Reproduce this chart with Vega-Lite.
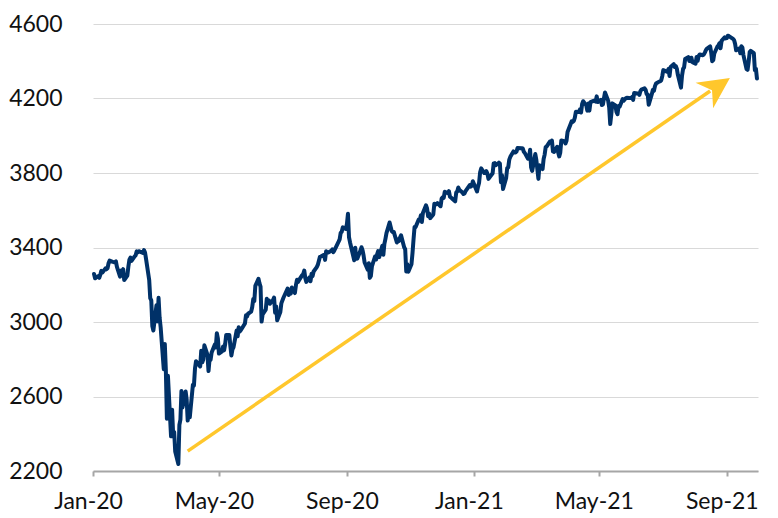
{
  "$schema": "https://vega.github.io/schema/vega-lite/v6.json",
  "autosize": "none",
  "width": 665,
  "height": 447,
  "padding": {"left": 93, "top": 24, "right": 20, "bottom": 47},
  "background": "white",
  "config": {
    "view": {"stroke": null},
    "font": "Lato",
    "axis": {"labelFont": "Lato", "labelFontSize": 23, "labelColor": "#111111", "title": null}
  },
  "datasets": {
    "spx": [
      {"d":"2020-01-02","v":3257.85},{"d":"2020-01-03","v":3234.85},{"d":"2020-01-06","v":3246.28},{"d":"2020-01-07","v":3237.18},{"d":"2020-01-08","v":3253.05},{"d":"2020-01-09","v":3274.70},{"d":"2020-01-10","v":3265.35},{"d":"2020-01-13","v":3288.13},{"d":"2020-01-14","v":3283.15},{"d":"2020-01-15","v":3289.29},{"d":"2020-01-16","v":3316.81},{"d":"2020-01-17","v":3329.62},{"d":"2020-01-21","v":3320.79},{"d":"2020-01-22","v":3321.75},{"d":"2020-01-23","v":3325.54},{"d":"2020-01-24","v":3295.47},{"d":"2020-01-27","v":3243.63},{"d":"2020-01-28","v":3276.24},{"d":"2020-01-29","v":3273.40},{"d":"2020-01-30","v":3283.66},{"d":"2020-01-31","v":3225.52},
      {"d":"2020-02-03","v":3248.92},{"d":"2020-02-04","v":3297.59},{"d":"2020-02-05","v":3334.69},{"d":"2020-02-06","v":3345.78},{"d":"2020-02-07","v":3327.71},{"d":"2020-02-10","v":3352.09},{"d":"2020-02-11","v":3357.75},{"d":"2020-02-12","v":3379.45},{"d":"2020-02-13","v":3373.94},{"d":"2020-02-14","v":3380.16},{"d":"2020-02-18","v":3370.29},{"d":"2020-02-19","v":3386.15},{"d":"2020-02-20","v":3373.23},{"d":"2020-02-21","v":3337.75},{"d":"2020-02-24","v":3225.89},{"d":"2020-02-25","v":3128.21},{"d":"2020-02-26","v":3116.39},{"d":"2020-02-27","v":2978.76},{"d":"2020-02-28","v":2954.22},
      {"d":"2020-03-02","v":3090.23},{"d":"2020-03-03","v":3003.37},{"d":"2020-03-04","v":3130.12},{"d":"2020-03-05","v":3023.94},{"d":"2020-03-06","v":2972.37},{"d":"2020-03-09","v":2746.56},{"d":"2020-03-10","v":2882.23},{"d":"2020-03-11","v":2741.38},{"d":"2020-03-12","v":2480.64},{"d":"2020-03-13","v":2711.02},{"d":"2020-03-16","v":2386.13},{"d":"2020-03-17","v":2529.19},{"d":"2020-03-18","v":2398.10},{"d":"2020-03-19","v":2409.39},{"d":"2020-03-20","v":2304.92},{"d":"2020-03-23","v":2237.40},{"d":"2020-03-24","v":2447.33},{"d":"2020-03-25","v":2475.56},{"d":"2020-03-26","v":2630.07},{"d":"2020-03-27","v":2541.47},{"d":"2020-03-30","v":2626.65},{"d":"2020-03-31","v":2584.59},
      {"d":"2020-04-01","v":2470.50},{"d":"2020-04-02","v":2526.90},{"d":"2020-04-03","v":2488.65},{"d":"2020-04-06","v":2663.68},{"d":"2020-04-07","v":2659.41},{"d":"2020-04-08","v":2749.98},{"d":"2020-04-09","v":2789.82},{"d":"2020-04-13","v":2761.63},{"d":"2020-04-14","v":2846.06},{"d":"2020-04-15","v":2783.36},{"d":"2020-04-16","v":2799.55},{"d":"2020-04-17","v":2874.56},{"d":"2020-04-20","v":2823.16},{"d":"2020-04-21","v":2736.56},{"d":"2020-04-22","v":2799.31},{"d":"2020-04-23","v":2797.80},{"d":"2020-04-24","v":2836.74},{"d":"2020-04-27","v":2878.48},{"d":"2020-04-28","v":2863.39},{"d":"2020-04-29","v":2939.51},{"d":"2020-04-30","v":2912.43},
      {"d":"2020-05-01","v":2830.71},{"d":"2020-05-04","v":2842.74},{"d":"2020-05-05","v":2868.44},{"d":"2020-05-06","v":2848.42},{"d":"2020-05-07","v":2881.19},{"d":"2020-05-08","v":2929.80},{"d":"2020-05-11","v":2930.32},{"d":"2020-05-12","v":2870.12},{"d":"2020-05-13","v":2820.00},{"d":"2020-05-14","v":2852.50},{"d":"2020-05-15","v":2863.70},{"d":"2020-05-18","v":2953.91},{"d":"2020-05-19","v":2922.94},{"d":"2020-05-20","v":2971.61},{"d":"2020-05-21","v":2948.51},{"d":"2020-05-22","v":2955.45},{"d":"2020-05-26","v":2991.77},{"d":"2020-05-27","v":3036.13},{"d":"2020-05-28","v":3029.73},{"d":"2020-05-29","v":3044.31},
      {"d":"2020-06-01","v":3055.73},{"d":"2020-06-02","v":3080.82},{"d":"2020-06-03","v":3122.87},{"d":"2020-06-04","v":3112.35},{"d":"2020-06-05","v":3193.93},{"d":"2020-06-08","v":3232.39},{"d":"2020-06-09","v":3207.18},{"d":"2020-06-10","v":3190.14},{"d":"2020-06-11","v":3002.10},{"d":"2020-06-12","v":3041.31},{"d":"2020-06-15","v":3066.59},{"d":"2020-06-16","v":3124.74},{"d":"2020-06-17","v":3113.49},{"d":"2020-06-18","v":3115.34},{"d":"2020-06-19","v":3097.74},{"d":"2020-06-22","v":3117.86},{"d":"2020-06-23","v":3131.29},{"d":"2020-06-24","v":3050.33},{"d":"2020-06-25","v":3083.76},{"d":"2020-06-26","v":3009.05},{"d":"2020-06-29","v":3053.24},{"d":"2020-06-30","v":3100.29},
      {"d":"2020-07-01","v":3115.86},{"d":"2020-07-02","v":3130.01},{"d":"2020-07-06","v":3179.72},{"d":"2020-07-07","v":3145.32},{"d":"2020-07-08","v":3169.94},{"d":"2020-07-09","v":3152.05},{"d":"2020-07-10","v":3185.04},{"d":"2020-07-13","v":3155.22},{"d":"2020-07-14","v":3197.52},{"d":"2020-07-15","v":3226.56},{"d":"2020-07-16","v":3215.57},{"d":"2020-07-17","v":3224.73},{"d":"2020-07-20","v":3251.84},{"d":"2020-07-21","v":3257.30},{"d":"2020-07-22","v":3276.02},{"d":"2020-07-23","v":3235.66},{"d":"2020-07-24","v":3215.63},{"d":"2020-07-27","v":3239.41},{"d":"2020-07-28","v":3218.44},{"d":"2020-07-29","v":3258.44},{"d":"2020-07-30","v":3246.22},{"d":"2020-07-31","v":3271.12},
      {"d":"2020-08-03","v":3294.61},{"d":"2020-08-04","v":3306.51},{"d":"2020-08-05","v":3327.77},{"d":"2020-08-06","v":3349.16},{"d":"2020-08-07","v":3351.28},{"d":"2020-08-10","v":3360.47},{"d":"2020-08-11","v":3333.69},{"d":"2020-08-12","v":3380.35},{"d":"2020-08-13","v":3373.43},{"d":"2020-08-14","v":3372.85},{"d":"2020-08-17","v":3381.99},{"d":"2020-08-18","v":3389.78},{"d":"2020-08-19","v":3374.85},{"d":"2020-08-20","v":3385.51},{"d":"2020-08-21","v":3397.16},{"d":"2020-08-24","v":3431.28},{"d":"2020-08-25","v":3443.62},{"d":"2020-08-26","v":3478.73},{"d":"2020-08-27","v":3484.55},{"d":"2020-08-28","v":3508.01},{"d":"2020-08-31","v":3500.31},
      {"d":"2020-09-01","v":3526.65},{"d":"2020-09-02","v":3580.84},{"d":"2020-09-03","v":3455.06},{"d":"2020-09-04","v":3426.96},{"d":"2020-09-08","v":3331.84},{"d":"2020-09-09","v":3398.96},{"d":"2020-09-10","v":3339.19},{"d":"2020-09-11","v":3340.97},{"d":"2020-09-14","v":3383.54},{"d":"2020-09-15","v":3401.20},{"d":"2020-09-16","v":3385.49},{"d":"2020-09-17","v":3357.01},{"d":"2020-09-18","v":3319.47},{"d":"2020-09-21","v":3281.06},{"d":"2020-09-22","v":3315.57},{"d":"2020-09-23","v":3236.92},{"d":"2020-09-24","v":3246.59},{"d":"2020-09-25","v":3298.46},{"d":"2020-09-28","v":3351.60},{"d":"2020-09-29","v":3335.47},{"d":"2020-09-30","v":3363.00},
      {"d":"2020-10-01","v":3380.80},{"d":"2020-10-02","v":3348.42},{"d":"2020-10-05","v":3408.60},{"d":"2020-10-06","v":3360.97},{"d":"2020-10-07","v":3419.44},{"d":"2020-10-08","v":3446.83},{"d":"2020-10-09","v":3477.14},{"d":"2020-10-12","v":3534.22},{"d":"2020-10-13","v":3511.93},{"d":"2020-10-14","v":3488.67},{"d":"2020-10-15","v":3483.34},{"d":"2020-10-16","v":3483.81},{"d":"2020-10-19","v":3426.92},{"d":"2020-10-20","v":3443.12},{"d":"2020-10-21","v":3435.56},{"d":"2020-10-22","v":3453.49},{"d":"2020-10-23","v":3465.39},{"d":"2020-10-26","v":3400.97},{"d":"2020-10-27","v":3390.68},{"d":"2020-10-28","v":3271.03},{"d":"2020-10-29","v":3310.11},{"d":"2020-10-30","v":3269.96},
      {"d":"2020-11-02","v":3310.24},{"d":"2020-11-03","v":3369.16},{"d":"2020-11-04","v":3443.44},{"d":"2020-11-05","v":3510.45},{"d":"2020-11-06","v":3509.44},{"d":"2020-11-09","v":3550.50},{"d":"2020-11-10","v":3545.53},{"d":"2020-11-11","v":3572.66},{"d":"2020-11-12","v":3537.01},{"d":"2020-11-13","v":3585.15},{"d":"2020-11-16","v":3626.91},{"d":"2020-11-17","v":3609.53},{"d":"2020-11-18","v":3567.79},{"d":"2020-11-19","v":3581.87},{"d":"2020-11-20","v":3557.54},{"d":"2020-11-23","v":3577.59},{"d":"2020-11-24","v":3635.41},{"d":"2020-11-25","v":3629.65},{"d":"2020-11-27","v":3638.35},{"d":"2020-11-30","v":3621.63},
      {"d":"2020-12-01","v":3662.45},{"d":"2020-12-02","v":3669.01},{"d":"2020-12-03","v":3666.72},{"d":"2020-12-04","v":3699.12},{"d":"2020-12-07","v":3691.96},{"d":"2020-12-08","v":3702.25},{"d":"2020-12-09","v":3672.82},{"d":"2020-12-10","v":3668.10},{"d":"2020-12-11","v":3663.46},{"d":"2020-12-14","v":3647.49},{"d":"2020-12-15","v":3694.62},{"d":"2020-12-16","v":3701.17},{"d":"2020-12-17","v":3722.48},{"d":"2020-12-18","v":3709.41},{"d":"2020-12-21","v":3694.92},{"d":"2020-12-22","v":3687.26},{"d":"2020-12-23","v":3690.01},{"d":"2020-12-24","v":3703.06},{"d":"2020-12-28","v":3735.36},{"d":"2020-12-29","v":3727.04},{"d":"2020-12-30","v":3732.04},{"d":"2020-12-31","v":3756.07},
      {"d":"2021-01-04","v":3700.65},{"d":"2021-01-05","v":3726.86},{"d":"2021-01-06","v":3748.14},{"d":"2021-01-07","v":3803.79},{"d":"2021-01-08","v":3824.68},{"d":"2021-01-11","v":3799.61},{"d":"2021-01-12","v":3801.19},{"d":"2021-01-13","v":3809.84},{"d":"2021-01-14","v":3795.54},{"d":"2021-01-15","v":3768.25},{"d":"2021-01-19","v":3798.91},{"d":"2021-01-20","v":3851.85},{"d":"2021-01-21","v":3853.07},{"d":"2021-01-22","v":3841.47},{"d":"2021-01-25","v":3855.36},{"d":"2021-01-26","v":3849.62},{"d":"2021-01-27","v":3750.77},{"d":"2021-01-28","v":3787.38},{"d":"2021-01-29","v":3714.24},
      {"d":"2021-02-01","v":3773.86},{"d":"2021-02-02","v":3826.31},{"d":"2021-02-03","v":3830.17},{"d":"2021-02-04","v":3871.74},{"d":"2021-02-05","v":3886.83},{"d":"2021-02-08","v":3915.59},{"d":"2021-02-09","v":3911.23},{"d":"2021-02-10","v":3909.88},{"d":"2021-02-11","v":3916.38},{"d":"2021-02-12","v":3934.83},{"d":"2021-02-16","v":3932.59},{"d":"2021-02-17","v":3931.33},{"d":"2021-02-18","v":3913.97},{"d":"2021-02-19","v":3906.71},{"d":"2021-02-22","v":3876.50},{"d":"2021-02-23","v":3881.37},{"d":"2021-02-24","v":3925.43},{"d":"2021-02-25","v":3829.34},{"d":"2021-02-26","v":3811.15},
      {"d":"2021-03-01","v":3901.82},{"d":"2021-03-02","v":3870.29},{"d":"2021-03-03","v":3819.72},{"d":"2021-03-04","v":3768.47},{"d":"2021-03-05","v":3841.94},{"d":"2021-03-08","v":3821.35},{"d":"2021-03-09","v":3875.44},{"d":"2021-03-10","v":3898.81},{"d":"2021-03-11","v":3939.34},{"d":"2021-03-12","v":3943.34},{"d":"2021-03-15","v":3968.94},{"d":"2021-03-16","v":3962.71},{"d":"2021-03-17","v":3974.12},{"d":"2021-03-18","v":3915.46},{"d":"2021-03-19","v":3913.10},{"d":"2021-03-22","v":3940.59},{"d":"2021-03-23","v":3910.52},{"d":"2021-03-24","v":3889.14},{"d":"2021-03-25","v":3909.52},{"d":"2021-03-26","v":3974.54},{"d":"2021-03-29","v":3971.09},{"d":"2021-03-30","v":3958.55},{"d":"2021-03-31","v":3972.89},
      {"d":"2021-04-01","v":4019.87},{"d":"2021-04-05","v":4077.91},{"d":"2021-04-06","v":4073.94},{"d":"2021-04-07","v":4079.95},{"d":"2021-04-08","v":4097.17},{"d":"2021-04-09","v":4128.80},{"d":"2021-04-12","v":4127.99},{"d":"2021-04-13","v":4141.59},{"d":"2021-04-14","v":4124.66},{"d":"2021-04-15","v":4170.42},{"d":"2021-04-16","v":4185.47},{"d":"2021-04-19","v":4163.26},{"d":"2021-04-20","v":4134.94},{"d":"2021-04-21","v":4173.42},{"d":"2021-04-22","v":4134.98},{"d":"2021-04-23","v":4180.17},{"d":"2021-04-26","v":4187.62},{"d":"2021-04-27","v":4186.72},{"d":"2021-04-28","v":4183.18},{"d":"2021-04-29","v":4211.47},{"d":"2021-04-30","v":4181.17},
      {"d":"2021-05-03","v":4192.66},{"d":"2021-05-04","v":4164.66},{"d":"2021-05-05","v":4167.59},{"d":"2021-05-06","v":4201.62},{"d":"2021-05-07","v":4232.60},{"d":"2021-05-10","v":4188.43},{"d":"2021-05-11","v":4152.10},{"d":"2021-05-12","v":4063.04},{"d":"2021-05-13","v":4112.50},{"d":"2021-05-14","v":4173.85},{"d":"2021-05-17","v":4163.29},{"d":"2021-05-18","v":4127.83},{"d":"2021-05-19","v":4115.68},{"d":"2021-05-20","v":4159.12},{"d":"2021-05-21","v":4155.86},{"d":"2021-05-24","v":4197.05},{"d":"2021-05-25","v":4188.13},{"d":"2021-05-26","v":4195.99},{"d":"2021-05-27","v":4200.88},{"d":"2021-05-28","v":4204.11},
      {"d":"2021-06-01","v":4202.04},{"d":"2021-06-02","v":4208.12},{"d":"2021-06-03","v":4192.85},{"d":"2021-06-04","v":4229.89},{"d":"2021-06-07","v":4226.52},{"d":"2021-06-08","v":4227.26},{"d":"2021-06-09","v":4219.55},{"d":"2021-06-10","v":4239.18},{"d":"2021-06-11","v":4247.44},{"d":"2021-06-14","v":4255.15},{"d":"2021-06-15","v":4246.59},{"d":"2021-06-16","v":4223.70},{"d":"2021-06-17","v":4221.86},{"d":"2021-06-18","v":4166.45},{"d":"2021-06-21","v":4224.79},{"d":"2021-06-22","v":4246.44},{"d":"2021-06-23","v":4241.84},{"d":"2021-06-24","v":4266.49},{"d":"2021-06-25","v":4280.70},{"d":"2021-06-28","v":4290.61},{"d":"2021-06-29","v":4291.80},{"d":"2021-06-30","v":4297.50},
      {"d":"2021-07-01","v":4319.94},{"d":"2021-07-02","v":4352.34},{"d":"2021-07-06","v":4343.54},{"d":"2021-07-07","v":4358.13},{"d":"2021-07-08","v":4320.82},{"d":"2021-07-09","v":4369.55},{"d":"2021-07-12","v":4384.63},{"d":"2021-07-13","v":4369.21},{"d":"2021-07-14","v":4374.30},{"d":"2021-07-15","v":4360.03},{"d":"2021-07-16","v":4327.16},{"d":"2021-07-19","v":4258.49},{"d":"2021-07-20","v":4323.06},{"d":"2021-07-21","v":4358.69},{"d":"2021-07-22","v":4367.48},{"d":"2021-07-23","v":4411.79},{"d":"2021-07-26","v":4422.30},{"d":"2021-07-27","v":4401.46},{"d":"2021-07-28","v":4400.64},{"d":"2021-07-29","v":4419.15},{"d":"2021-07-30","v":4395.26},
      {"d":"2021-08-02","v":4387.16},{"d":"2021-08-03","v":4423.15},{"d":"2021-08-04","v":4402.66},{"d":"2021-08-05","v":4429.10},{"d":"2021-08-06","v":4436.52},{"d":"2021-08-09","v":4432.35},{"d":"2021-08-10","v":4436.75},{"d":"2021-08-11","v":4447.70},{"d":"2021-08-12","v":4460.83},{"d":"2021-08-13","v":4468.00},{"d":"2021-08-16","v":4479.71},{"d":"2021-08-17","v":4448.08},{"d":"2021-08-18","v":4400.27},{"d":"2021-08-19","v":4405.80},{"d":"2021-08-20","v":4441.67},{"d":"2021-08-23","v":4479.53},{"d":"2021-08-24","v":4486.23},{"d":"2021-08-25","v":4496.19},{"d":"2021-08-26","v":4470.00},{"d":"2021-08-27","v":4509.37},{"d":"2021-08-30","v":4528.79},{"d":"2021-08-31","v":4522.68},
      {"d":"2021-09-01","v":4524.09},{"d":"2021-09-02","v":4536.95},{"d":"2021-09-03","v":4535.43},{"d":"2021-09-07","v":4520.03},{"d":"2021-09-08","v":4514.07},{"d":"2021-09-09","v":4493.28},{"d":"2021-09-10","v":4458.58},{"d":"2021-09-13","v":4468.73},{"d":"2021-09-14","v":4443.05},{"d":"2021-09-15","v":4480.70},{"d":"2021-09-16","v":4473.75},{"d":"2021-09-17","v":4432.99},{"d":"2021-09-20","v":4357.73},{"d":"2021-09-21","v":4354.19},{"d":"2021-09-22","v":4395.64},{"d":"2021-09-23","v":4448.98},{"d":"2021-09-24","v":4455.48},{"d":"2021-09-27","v":4443.11},{"d":"2021-09-28","v":4352.63},{"d":"2021-09-29","v":4359.46},{"d":"2021-09-30","v":4307.54}
    ],
    "arrowLine": [
      {"d": "2020-04-01", "v": 2307},
      {"d": "2021-08-16", "v": 4240}
    ],
    "arrowHead": [
      {"d": "2021-09-04", "v": 4310}
    ]
  },
  "encoding": {
    "x": {
      "field": "d",
      "type": "temporal",
      "scale": {
        "type": "utc",
        "domain": [
          {"year": 2020, "month": 1, "date": 1, "utc": true},
          {"year": 2021, "month": 10, "date": 1, "utc": true}
        ]
      },
      "axis": {
        "values": [
          {"year": 2020, "month": 1, "date": 1, "utc": true},
          {"year": 2020, "month": 5, "date": 1, "utc": true},
          {"year": 2020, "month": 9, "date": 1, "utc": true},
          {"year": 2021, "month": 1, "date": 1, "utc": true},
          {"year": 2021, "month": 5, "date": 1, "utc": true},
          {"year": 2021, "month": 9, "date": 1, "utc": true}
        ],
        "format": "%b-%y",
        "grid": false,
        "domainColor": "#A6A6A6",
        "domainWidth": 2,
        "tickColor": "#A6A6A6",
        "tickWidth": 2,
        "tickSize": 5,
        "labelPadding": 14,
        "labelOffset": -5,
        "labelFlush": false,
        "labelOverlap": false
      }
    },
    "y": {
      "field": "v",
      "type": "quantitative",
      "scale": {"domain": [2200, 4600], "nice": false, "zero": false},
      "axis": {
        "values": [2200, 2600, 3000, 3400, 3800, 4200, 4600],
        "format": "d",
        "domain": false,
        "ticks": false,
        "labelPadding": 31,
        "gridColor": "#D9D9D9",
        "gridWidth": 1
      }
    }
  },
  "layer": [
    {
      "data": {"name": "spx"},
      "mark": {"type": "line", "color": "#003168", "strokeWidth": 4, "strokeJoin": "round", "strokeCap": "round"}
    },
    {
      "data": {"name": "arrowLine"},
      "mark": {"type": "line", "color": "#FFC72C", "strokeWidth": 3.5}
    },
    {
      "data": {"name": "arrowHead"},
      "mark": {
        "type": "point",
        "shape": "M0,0L-2,-1L-1.4,0L-2,1Z",
        "filled": true,
        "size": 961,
        "angle": 325.5,
        "color": "#FFC72C",
        "opacity": 1,
        "strokeWidth": 0
      }
    }
  ]
}
